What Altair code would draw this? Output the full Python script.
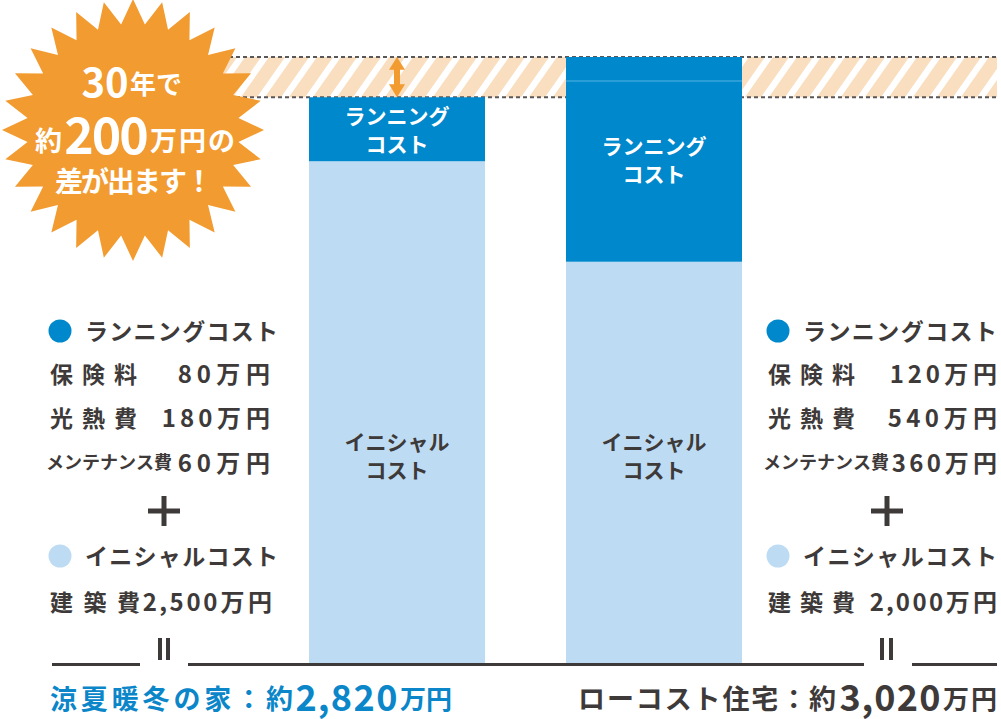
import math
import altair as alt
import pandas as pd

# ---------------- data ----------------
houses = ["涼夏暖冬の家", "ローコスト住宅"]
insurance = [80, 120]
utilities = [180, 540]
maintenance = [60, 360]
construction = [2500, 2000]
segments = ["イニシャルコスト", "ランニングコスト"]
item_names = ["保険料", "光熱費", "メンテナンス費"]
build_name = "建築費"
years = 30

running = [insurance[i] + utilities[i] + maintenance[i] for i in range(2)]
totals = [construction[i] + running[i] for i in range(2)]
diff = totals[1] - totals[0]

# ---------------- styles ----------------
FONT = "Noto Sans CJK JP"
DARK_BLUE = "#0088cc"
LIGHT_BLUE = "#bddcf3"
ORANGE = "#f29b30"
BAND = "#f9dfc0"
DARK = "#3e3a39"
DASH = "#595757"
BLUE_TEXT = "#0a86c9"

xscale = alt.Scale(type="band", domain=houses, range=[309, 742], paddingInner=81 / 257, paddingOuter=0)
yscale = alt.Scale(domain=[0, max(totals)], range=[663, 57], nice=False, zero=False)
PX = alt.Scale(domain=[0, 1001], range=[0, 1001], nice=False, zero=False)
PY = alt.Scale(domain=[0, 719], range=[0, 719], nice=False, zero=False)

one = pd.DataFrame({"k": [0]})


def Xb():
    return alt.X("house:N", scale=xscale, axis=None, sort=houses)


def Yd(v):
    return alt.Y(datum=v, type="quantitative", scale=yscale, axis=None)


def Y2d(v):
    return alt.Y2(datum=v)


# ---------------- bars ----------------
bar_rows = []
for i, h in enumerate(houses):
    bar_rows.append({"house": h, "seg": segments[0], "y0": 0, "y1": construction[i]})
    bar_rows.append({"house": h, "seg": segments[1], "y0": construction[i], "y1": totals[i]})
bar_df = pd.DataFrame(bar_rows)

bars = alt.Chart(bar_df).mark_bar().encode(
    x=Xb(),
    y=alt.Y("y0:Q", scale=yscale, axis=None),
    y2="y1:Q",
    color=alt.Color("seg:N", scale=alt.Scale(domain=segments, range=[LIGHT_BLUE, DARK_BLUE]), legend=None),
)

tick_df = pd.DataFrame({"house": [houses[1]], "y": [totals[1] - insurance[1]]})
tick = alt.Chart(tick_df).mark_tick(color="#7cc6ec", thickness=1, size=176, orient="horizontal").encode(
    x=Xb(), y=alt.Y("y:Q", scale=yscale, axis=None),
)

# in-bar labels (two lines each)
run_lab_df = pd.DataFrame({
    "house": houses,
    "l1": [segments[1][:5]] * 2,
    "l2": [segments[1][5:]] * 2,
    "ymid": [(construction[i] + totals[i]) / 2 for i in range(2)],
})
run_labels = [
    alt.Chart(run_lab_df).mark_text(
        font=FONT, fontWeight="bold", fontSize=21, color="white", baseline="middle", align="center", dy=d,
    ).encode(x=Xb(), y=alt.Y("ymid:Q", scale=yscale, axis=None), text=f"{col}:N")
    for col, d in (("l1", -11), ("l2", 17))
]

init_lab_df = pd.DataFrame({"house": houses, "l1": [segments[0][:5]] * 2, "l2": [segments[0][5:]] * 2})
init_labels = [
    alt.Chart(init_lab_df).mark_text(
        font=FONT, fontWeight="bold", fontSize=21, color=DARK, baseline="middle", align="center",
    ).encode(x=Xb(), y=alt.value(yv), text=f"{col}:N")
    for col, yv in (("l1", 444), ("l2", 472))
]

# ---------------- difference band ----------------
band_rect = alt.Chart(one).mark_rect(color=BAND, opacity=1).encode(
    x=alt.value(222), x2=alt.value(997), y=Yd(max(totals)), y2=Y2d(min(totals)),
)
# white diagonal stripes (decoration); overshoot is trimmed by white masks or hidden under bars
stripe_rows = []
top_px, bot_px = 50, 104
shift = 0.7 * (bot_px - top_px)
xs = 222 - shift
while xs < 997 + 4:
    stripe_rows.append({"x": xs, "x2": xs + shift, "y": bot_px, "y2": top_px})
    xs += 24
stripes = alt.Chart(pd.DataFrame(stripe_rows)).mark_rule(color="white", strokeWidth=6.5).encode(
    x=alt.X("x:Q", scale=PX, axis=None), x2="x2:Q",
    y=alt.Y("y:Q", scale=PY, axis=None), y2="y2:Q",
)
mask_rows = [
    {"x": 997, "x2": 1001, "y": 40, "y2": 110},
    {"x": 150, "x2": 1001, "y": 40, "y2": 56},
    {"x": 150, "x2": 1001, "y": 98, "y2": 110},
]
masks = alt.Chart(pd.DataFrame(mask_rows)).mark_rect(color="white", opacity=1).encode(
    x=alt.X("x:Q", scale=PX, axis=None), x2="x2:Q",
    y=alt.Y("y:Q", scale=PY, axis=None), y2="y2:Q",
)
dashes = [
    alt.Chart(one).mark_rule(color=DASH, strokeWidth=2, strokeDash=[4, 3]).encode(
        x=alt.value(222), x2=alt.value(997), y=Yd(v)
    ) for v in totals
]

# arrow
shaft = alt.Chart(one).mark_rule(color=ORANGE, strokeWidth=6, yOffset=-8, y2Offset=8).encode(
    x=alt.value(397), y=Yd(min(totals)), y2=Y2d(max(totals))
)
head_up = alt.Chart(one).mark_point(
    shape="M-0.5,0.8L0.5,0.8L0,0Z", size=1024, filled=True, color=ORANGE, opacity=1, strokeWidth=0
).encode(x=alt.value(397), y=Yd(max(totals)))
head_dn = alt.Chart(one).mark_point(
    shape="M-0.5,-0.8L0.5,-0.8L0,0Z", size=1024, filled=True, color=ORANGE, opacity=1, strokeWidth=0
).encode(x=alt.value(397), y=Yd(min(totals)))

# ---------------- starburst ----------------
N = 28
inner = 0.81
pts = []
for j in range(2 * N):
    ang = -math.pi / 2 + j * math.pi / N
    r = 1.0 if j % 2 == 0 else inner
    pts.append(f"{r * math.cos(ang):.4f},{r * math.sin(ang):.4f}")
star_path = "M" + "L".join(pts) + "Z"
R = 131
star = alt.Chart(one).mark_point(
    shape=star_path, size=(2 * R) ** 2, filled=True, color=ORANGE, opacity=1, strokeWidth=0
).encode(x=alt.value(133), y=alt.value(130))

# ---------------- annotation text (per character, fitted) ----------------
ann = []


def cw(c):
    if c.isdigit():
        return 0.56
    if c in ",.":
        return 0.27
    if ord(c) < 0x2000:
        return 0.6
    return 1.0


def fit(text, x0, x1, y, size, color):
    ws = [size * cw(c) for c in text]
    n = len(text)
    if n == 1:
        centers = [(x0 + x1) / 2]
    else:
        gap = (x1 - x0 - sum(ws)) / (n - 1)
        centers = []
        cur = x0
        for w in ws:
            centers.append(cur + w / 2)
            cur += w + gap
    for c, cx in zip(text, centers):
        ann.append({"ch": c, "px": cx, "py": y + 0.07 * size, "sz": size, "col": color})


# badge
fit(f"{years}", 82, 128, 82, 40, "white")
fit("年で", 130, 182, 84, 26, "white")
fit("約", 35, 62, 141, 27, "white")
fit(f"{diff}", 65, 148, 135, 50, "white")
fit("万円の", 150, 235, 141, 27, "white")
fit("差が出ます！", 55, 213, 182, 28, "white")

# left block
ys = [331, 374, 418, 463, 556, 602]
fit(segments[1], 85, 278, ys[0], 23, DARK)
fit(item_names[0], 50, 137, ys[1], 23, DARK)
fit(f"{insurance[0]}万円", 178, 270, ys[1], 24, DARK)
fit(item_names[1], 50, 137, ys[2], 23, DARK)
fit(f"{utilities[0]}万円", 162, 270, ys[2], 24, DARK)
fit(item_names[2], 46, 172, ys[3], 18, DARK)
fit(f"{maintenance[0]}万円", 178, 270, ys[3], 24, DARK)
fit(segments[0], 85, 278, ys[4], 23, DARK)
fit(build_name, 50, 140, ys[5], 23, DARK)
fit(f"{construction[0]:,}万円", 143, 272, ys[5], 24, DARK)

# right block
fit(segments[1], 803, 997, ys[0], 23, DARK)
fit(item_names[0], 768, 855, ys[1], 23, DARK)
fit(f"{insurance[1]}万円", 890, 997, ys[1], 24, DARK)
fit(item_names[1], 768, 855, ys[2], 23, DARK)
fit(f"{utilities[1]}万円", 888, 997, ys[2], 24, DARK)
fit(item_names[2], 763, 889, ys[3], 18, DARK)
fit(f"{maintenance[1]}万円", 892, 997, ys[3], 24, DARK)
fit(segments[0], 803, 997, ys[4], 23, DARK)
fit(build_name, 768, 855, ys[5], 23, DARK)
fit(f"{construction[1]:,}万円", 870, 997, ys[5], 24, DARK)

# bottom totals
fit(houses[0] + "：約", 50, 293, 699, 27, BLUE_TEXT)
fit(f"{totals[0]:,}", 296, 397, 697, 36, BLUE_TEXT)
fit("万円", 400, 452, 699, 26, BLUE_TEXT)
fit(houses[1] + "：約", 578, 836, 699, 27, DARK)
fit(f"{totals[1]:,}", 840, 940, 697, 36, DARK)
fit("万円", 943, 997, 699, 26, DARK)

ann_df = pd.DataFrame(ann)
ann_text = alt.Chart(ann_df).mark_text(font=FONT, fontWeight="bold", baseline="middle", align="center").encode(
    x=alt.X("px:Q", scale=PX, axis=None),
    y=alt.Y("py:Q", scale=PY, axis=None),
    text="ch:N",
    size=alt.Size("sz:Q", scale=None, legend=None),
    color=alt.Color("col:N", scale=None, legend=None),
)

# dots
dot_df = pd.DataFrame({
    "px": [60, 60, 778, 778],
    "py": [ys[0], ys[4], ys[0], ys[4]],
    "col": [DARK_BLUE, LIGHT_BLUE, DARK_BLUE, LIGHT_BLUE],
})
dots = alt.Chart(dot_df).mark_point(shape="circle", filled=True, size=529, opacity=1, strokeWidth=0).encode(
    x=alt.X("px:Q", scale=PX, axis=None),
    y=alt.Y("py:Q", scale=PY, axis=None),
    color=alt.Color("col:N", scale=None, legend=None),
)

# rules: baseline, plus signs, equals signs
rule_rows = [
    (188, 864, 664.5, 664.5, 3),
    (52, 140, 664.5, 664.5, 3),
    (912, 997, 664.5, 664.5, 3),
    (160, 160, 638, 660, 4), (168, 168, 638, 660, 4),
    (882, 882, 638, 660, 4), (891, 891, 638, 660, 4),
    (148, 180, 511, 511, 5), (164, 164, 496, 526, 5),
    (871, 903, 511, 511, 5), (887, 887, 496, 526, 5),
]
rule_df = pd.DataFrame(rule_rows, columns=["x", "x2", "y", "y2", "sw"])
rules = alt.Chart(rule_df).mark_rule(color=DARK).encode(
    x=alt.X("x:Q", scale=PX, axis=None), x2="x2:Q",
    y=alt.Y("y:Q", scale=PY, axis=None), y2="y2:Q",
    strokeWidth=alt.StrokeWidth("sw:Q", scale=None, legend=None),
)

chart = alt.layer(
    band_rect, stripes, masks, *dashes, bars, tick, *run_labels, *init_labels, shaft, head_up, head_dn,
    star, rules, dots, ann_text,
).resolve_scale(
    x="independent", y="independent", color="independent", size="independent", strokeWidth="independent"
).properties(
    width=1001, height=719, padding=0, autosize=alt.AutoSizeParams(type="none"), background="white"
).configure_view(stroke=None)

chart.save("out.html", embed_options={"renderer": "svg", "actions": False})
